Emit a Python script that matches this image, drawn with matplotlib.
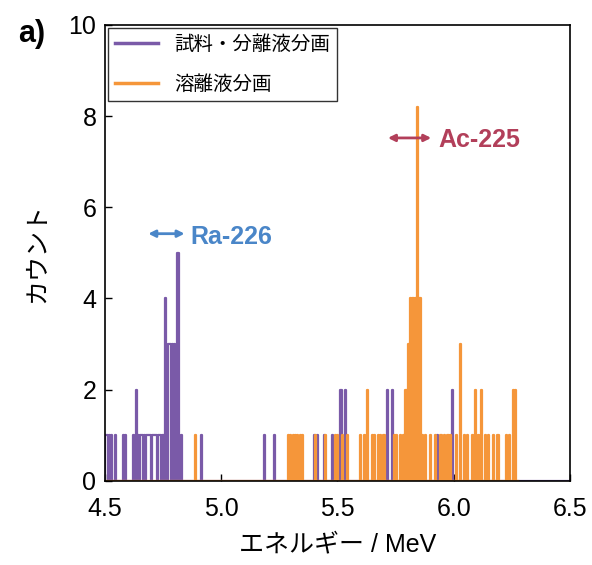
import numpy as np
import matplotlib
matplotlib.use("Agg")
import matplotlib.pyplot as plt

plt.rcParams['font.family'] = ['Liberation Sans', 'Noto Sans CJK JP', 'DejaVu Sans']

# spectrum channels (MeV), 0.005 MeV wide
E0, E1, DE = 4.5, 6.5, 0.005

# 試料・分離液分画 : nonzero channels
purple_e = [4.505, 4.510, 4.520, 4.530, 4.545, 4.580, 4.590, 4.625, 4.635, 4.645, 4.655, 4.660, 4.670,
            4.680, 4.685, 4.690, 4.695, 4.705, 4.710, 4.715, 4.720, 4.730, 4.735, 4.740, 4.750, 4.760,
            4.765, 4.775, 4.780, 4.790, 4.800, 4.805, 4.815, 4.830, 4.915, 5.185,
            5.230, 5.400, 5.415, 5.445, 5.480, 5.515, 5.535, 5.715, 5.735, 5.830,
            5.930, 5.995]
purple_c = [1, 1, 1, 1, 1, 1, 1, 1, 2, 1, 1, 1, 1,
            1, 1, 1, 1, 1, 1, 1, 1, 1, 1, 1, 1, 4,
            2, 3, 3, 3, 3, 2, 5, 1, 1, 1,
            1, 1, 1, 1, 1, 2, 2, 2, 2, 1,
            1, 2]

# 溶離液分画 : nonzero channels
orange_e = [4.890, 5.290, 5.300, 5.310, 5.320, 5.330, 5.340, 5.350, 5.405, 5.450,
            5.490, 5.500, 5.520, 5.545, 5.600, 5.615, 5.630, 5.650, 5.660, 5.675,
            5.685, 5.700, 5.745, 5.755, 5.770, 5.785, 5.795, 5.805, 5.815, 5.825,
            5.835, 5.845, 5.855, 5.865, 5.880, 5.900, 5.920, 5.945, 5.960, 5.975,
            5.985, 6.010, 6.030, 6.045, 6.060, 6.080, 6.095, 6.105, 6.120, 6.135,
            6.150, 6.170, 6.190, 6.225, 6.240, 6.255, 6.265]
orange_c = [1, 1, 1, 1, 1, 1, 1, 1, 1, 1,
            1, 1, 1, 1, 1, 1, 2, 1, 1, 1,
            1, 1, 1, 1, 1, 1, 2, 3, 4, 4,
            4, 8.2, 4, 1, 1, 1, 1, 1, 1, 1,
            1, 1, 3, 1, 1, 1, 2, 1, 2, 1,
            1, 1, 1, 1, 1, 2, 2]
orange_end = 6.275

labels = ['試料・分離液分画', '溶離液分画']
PURPLE = '#7a5aa8'
ORANGE = '#f5963a'
BLUE = '#4a86c8'
RED = '#b23f5a'

def spectrum(ev, cnt, end):
    e = np.round(np.arange(E0, end + DE / 2, DE), 3)
    c = np.zeros(len(e))
    for x, n in zip(ev, cnt):
        c[int(round((x - E0) / DE))] = n
    return e, c

fig = plt.figure(figsize=(5.92, 5.65), dpi=100)
ax = fig.add_axes([0.177, 0.149, 0.786, 0.807])

pe, pc = spectrum(purple_e, purple_c, E1)
oe, oc = spectrum(orange_e, orange_c, orange_end)
ax.plot(pe, pc, drawstyle='steps-mid', color=PURPLE, lw=1.6, label=labels[0])
ax.plot(oe, oc, drawstyle='steps-mid', color=ORANGE, lw=1.6, label=labels[1])

ax.set_xlim(4.5, 6.5)
ax.set_ylim(0, 10)
ax.set_xticks([4.5, 5.0, 5.5, 6.0, 6.5])
ax.set_xticklabels(['4.5', '5.0', '5.5', '6.0', '6.5'])
ax.set_yticks([0, 2, 4, 6, 8, 10])
ax.tick_params(direction='in', labelsize=18, length=5, width=1)
ax.tick_params(axis='x', pad=12)
ax.tick_params(axis='y', pad=6)
ax.set_xlabel('エネルギー / MeV', fontsize=18, labelpad=8)
ax.set_ylabel('カウント', fontsize=18, labelpad=14)
for s in ax.spines.values():
    s.set_linewidth(1.2)

leg = ax.legend(loc='upper left', fontsize=14, frameon=True, fancybox=False,
                edgecolor='black', borderaxespad=0.15, handlelength=2.2,
                labelspacing=1.05, borderpad=0.4)
leg.get_frame().set_linewidth(1)
for line in leg.get_lines():
    line.set_linewidth(2.5)

ax.annotate('', xy=(4.675, 5.42), xytext=(4.855, 5.42),
            arrowprops=dict(arrowstyle='<|-|>', color=BLUE, lw=2, mutation_scale=10))
ax.text(4.87, 5.35, 'Ra-226', color=BLUE, fontsize=18, fontweight='bold', va='center')
ax.annotate('', xy=(5.705, 7.52), xytext=(5.915, 7.52),
            arrowprops=dict(arrowstyle='<|-|>', color=RED, lw=2, mutation_scale=10))
ax.text(5.935, 7.47, 'Ac-225', color=RED, fontsize=18, fontweight='bold', va='center')

fig.text(0.03, 0.94, 'a)', fontsize=22, fontweight='bold', va='center')

fig.savefig('out.png', dpi=100)
